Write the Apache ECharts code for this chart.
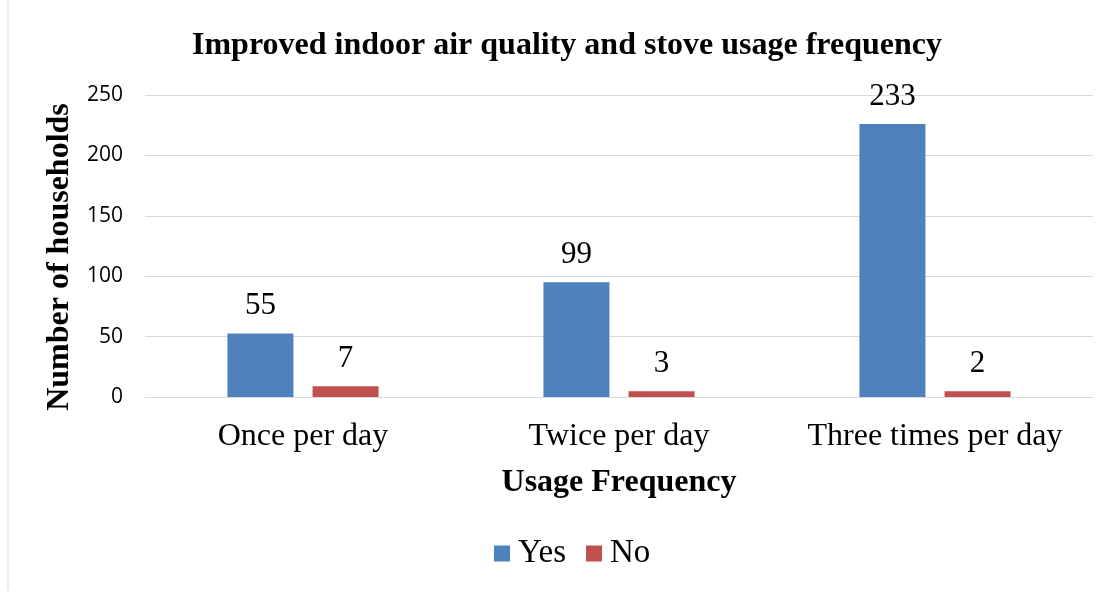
<!DOCTYPE html>
<html><head><meta charset="utf-8">
<script src="https://cdn.jsdelivr.net/npm/echarts@6/dist/echarts.min.js"></script>
<style>html,body{margin:0;padding:0;background:#fff}#c{width:1113px;height:595px}</style>
</head><body><div id="c"></div>
<script>
const categories = ['Once per day', 'Twice per day', 'Three times per day'];
const yesValues = [52.5, 95, 226];
const noValues = [8.9, 4.7, 4.7];
const yesLabels = [55, 99, 233];
const noLabels = [7, 3, 2];
const yTicks = [0, 50, 100, 150, 200, 250];

const serif = '"Liberation Serif", "Times New Roman", serif';
const chart = echarts.init(document.getElementById('c'));
chart.setOption({
  animation: false,
  title: {
    text: 'Improved indoor air quality and stove usage frequency',
    left: 187, top: 25,
    textStyle: {fontFamily: serif, fontSize: 32, fontWeight: 'bold', color: '#000'}
  },
  legend: {
    data: ['Yes', 'No'], bottom: 20, left: 489,
    itemWidth: 16, itemHeight: 16, itemGap: 20, icon: 'rect',
    textStyle: {fontFamily: serif, fontSize: 33, color: '#000', padding: [0, 0, 0, 3]}
  },
  grid: {left: 145, right: 20, top: 95, bottom: 198, containLabel: false},
  xAxis: {
    type: 'category', data: categories,
    name: 'Usage Frequency', nameLocation: 'middle', nameGap: 70,
    nameTextStyle: {fontFamily: serif, fontSize: 32, fontWeight: 'bold', color: '#000'},
    axisLine: {lineStyle: {color: '#d9d9d9', width: 1}},
    axisTick: {show: false},
    axisLabel: {interval: 0, fontFamily: serif, fontSize: 32, color: '#000', margin: 24}
  },
  yAxis: {
    type: 'value', min: yTicks[0], max: yTicks[yTicks.length - 1], interval: 50,
    name: 'Number of households', nameLocation: 'middle', nameGap: 65,
    nameTextStyle: {fontFamily: serif, fontSize: 32, fontWeight: 'bold', color: '#000', padding: [0, 22, 0, 0]},
    axisLine: {show: false}, axisTick: {show: false},
    axisLabel: {fontFamily: '"Open Sans", sans-serif', fontSize: 21, color: '#000', margin: 22},
    splitLine: {lineStyle: {color: '#d9d9d9', width: 1}}
  },
  graphic: [{
    type: 'line', shape: {x1: 8, y1: 0, x2: 8, y2: 590},
    style: {stroke: '#d9d9d9', lineWidth: 1}
  }],
  series: [
    {
      name: 'Yes', type: 'bar', data: yesValues, barWidth: 66, barGap: '29%',
      itemStyle: {color: '#4f81bd'},
      label: {show: true, position: 'top', distance: 12,
        fontFamily: serif, fontSize: 31, color: '#000',
        formatter: p => yesLabels[p.dataIndex]}
    },
    {
      name: 'No', type: 'bar', data: noValues, barWidth: 66,
      itemStyle: {color: '#c0504d'},
      label: {show: true, position: 'top', distance: 12,
        fontFamily: serif, fontSize: 31, color: '#000',
        formatter: p => noLabels[p.dataIndex]}
    }
  ]
});
</script></body></html>
